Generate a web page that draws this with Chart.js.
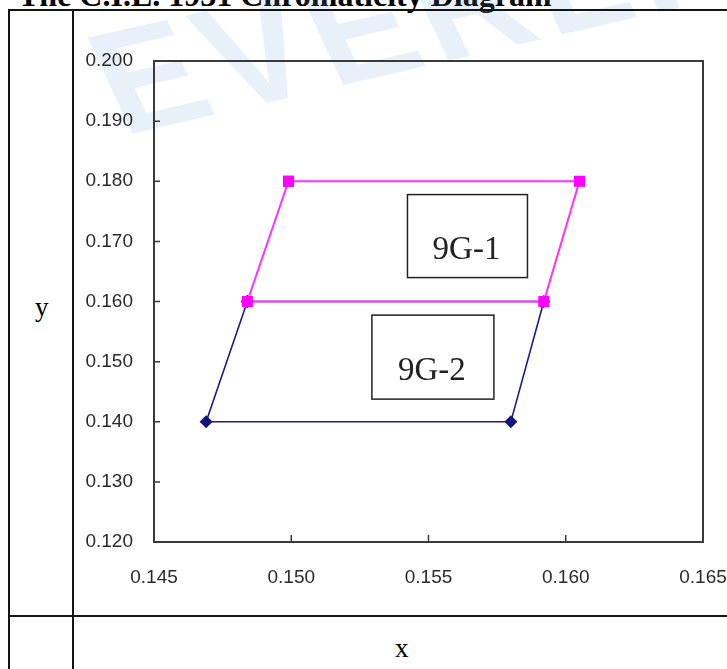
<!DOCTYPE html>
<html>
<head>
<meta charset="utf-8">
<script src="https://cdn.jsdelivr.net/npm/chart.js@4/dist/chart.umd.min.js"></script>
<style>
  html, body { margin:0; padding:0; background:#fff; }
  body { width:727px; height:669px; position:relative; overflow:hidden; }
  .ln { position:absolute; background:#141414; }
  #title { position:absolute; left:18px; top:-21px; font:bold 32px "Liberation Serif", serif; line-height:32px; white-space:nowrap; color:#000; }
  #wm { position:absolute; left:122px; top:-2px; font:bold 150px "Liberation Sans", Arial, sans-serif; line-height:normal; color:rgba(110,165,215,0.16); transform:rotate(-13deg) skewX(12deg); transform-origin:0 136px; white-space:nowrap; letter-spacing:8px; }
  .ax { position:absolute; font:27px "Liberation Serif", serif; color:#000; }
  #c { position:absolute; left:0; top:0; }
</style>
</head>
<body>
<div id="title">The C.I.E. 1931 Chromaticity Diagram</div>
<div id="wm">EVERLIGHT</div>
<div class="ln" style="left:8px;top:9px;width:719px;height:2px"></div>
<div class="ln" style="left:8px;top:9px;width:2px;height:660px"></div>
<div class="ln" style="left:72px;top:9px;width:2px;height:660px"></div>
<div class="ln" style="left:8px;top:615px;width:719px;height:2px"></div>
<div class="ax" style="left:35px;top:292px">y</div>
<div class="ax" style="left:395px;top:633px">x</div>
<canvas id="c" width="727" height="669"></canvas>
<script>
// ---- data ----
const bin1Name = "9G-1";
const bin1X = [0.1499, 0.1605, 0.1592, 0.1484, 0.1499];
const bin1Y = [0.180, 0.180, 0.160, 0.160, 0.180];
const bin2Name = "9G-2";
const bin2X = [0.1484, 0.1592, 0.1580, 0.1469, 0.1484];
const bin2Y = [0.160, 0.160, 0.140, 0.140, 0.160];
const labelNames = ["9G-1", "9G-2"];
const labelX = [0.15642, 0.15516];
const labelY = [0.17088, 0.15075];
const xTickMin = 0.145, xTickMax = 0.165, xTickStep = 0.005;
const yTickMin = 0.120, yTickMax = 0.200, yTickStep = 0.010;

const pts = (xs, ys) => xs.map((x, i) => ({x: x, y: ys[i]}));

const frameAndTicks = {
  id: 'frameAndTicks',
  afterDatasetsDraw(chart) {
    const {ctx, chartArea: a, scales} = chart;
    ctx.save();
    ctx.strokeStyle = '#3a3a3a';
    ctx.lineWidth = 2;
    ctx.strokeRect(a.left, a.top, a.right - a.left, a.bottom - a.top);
    ctx.lineWidth = 1.5;
    ctx.beginPath();
    scales.x.ticks.forEach(t => {
      const px = scales.x.getPixelForValue(t.value);
      ctx.moveTo(px, a.bottom); ctx.lineTo(px, a.bottom - 7);
    });
    scales.y.ticks.forEach(t => {
      const py = scales.y.getPixelForValue(t.value);
      ctx.moveTo(a.left, py); ctx.lineTo(a.left + 6, py);
    });
    ctx.stroke();
    // label boxes
    const sizes = [[120, 83], [122, 84]];
    ctx.font = '33px "Liberation Serif", serif';
    ctx.textAlign = 'center';
    ctx.textBaseline = 'middle';
    labelNames.forEach((n, i) => {
      const cx = scales.x.getPixelForValue(labelX[i]);
      const cy = scales.y.getPixelForValue(labelY[i]);
      const [w, h] = sizes[i];
      ctx.fillStyle = '#fff';
      ctx.fillRect(cx - w/2, cy - h/2, w, h);
      ctx.strokeStyle = '#222';
      ctx.lineWidth = 1.5;
      ctx.strokeRect(cx - w/2, cy - h/2, w, h);
      ctx.fillStyle = '#222';
      ctx.fillText(n, cx - 1, cy + 14);
    });
    ctx.restore();
  }
};

new Chart(document.getElementById('c'), {
  type: 'scatter',
  data: {
    datasets: [
      { label: bin1Name, data: pts(bin1X, bin1Y), showLine: true,
        borderColor: '#ff30ff', backgroundColor: '#ff00ff', borderWidth: 2,
        pointStyle: 'rect', pointRadius: 7.8, pointBorderWidth: 0, pointHoverRadius: 7.8 },
      { label: bin2Name, data: pts(bin2X, bin2Y), showLine: true,
        borderColor: '#1c1c8c', backgroundColor: '#14147a', borderWidth: 1.6,
        pointStyle: 'rectRot', pointRadius: 6.5, pointBorderWidth: 0, pointHoverRadius: 6.5 }
    ]
  },
  options: {
    responsive: false,
    animation: false,
    events: [],
    layout: { padding: { top: 61, right: 24, left: 0, bottom: 0 } },
    plugins: { legend: { display: false }, tooltip: { enabled: false } },
    scales: {
      x: {
        type: 'linear', min: xTickMin, max: xTickMax,
        afterFit(s) { s.height = 127; s.paddingLeft = 0; s.paddingRight = 0; },
        grid: { display: false, drawTicks: false },
        border: { display: false },
        ticks: { stepSize: xTickStep, padding: 24, color: '#2a2a2a',
          font: { family: '"Liberation Sans", Arial, sans-serif', size: 19 },
          callback: v => v.toFixed(3) }
      },
      y: {
        type: 'linear', min: yTickMin, max: yTickMax,
        afterFit(s) { s.width = 154; s.paddingTop = 0; s.paddingBottom = 0; },
        grid: { display: false, drawTicks: false },
        border: { display: false },
        ticks: { stepSize: yTickStep, padding: 21, color: '#2a2a2a',
          font: { family: '"Liberation Sans", Arial, sans-serif', size: 19 },
          callback: v => v.toFixed(3) }
      }
    }
  },
  plugins: [frameAndTicks]
});
</script>
</body>
</html>
